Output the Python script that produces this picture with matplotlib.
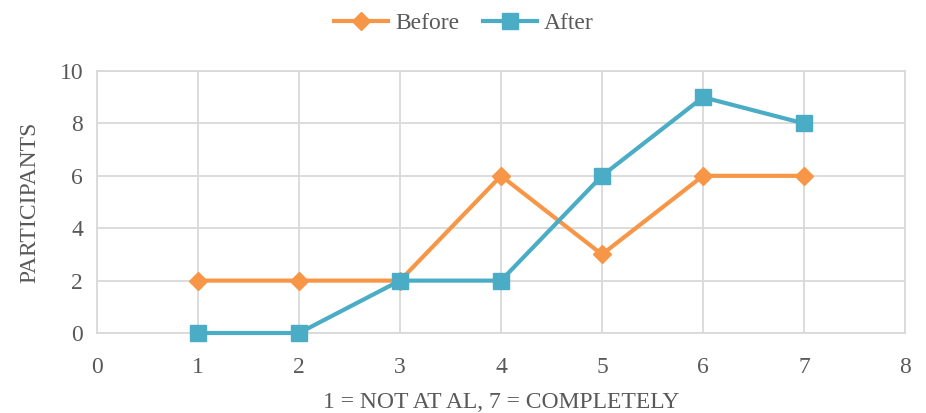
import matplotlib
matplotlib.use('Agg')
import matplotlib.pyplot as plt

# Chart data
x_scores = [1, 2, 3, 4, 5, 6, 7]
before = [2, 2, 2, 6, 3, 6, 6]
after = [0, 0, 2, 2, 6, 9, 8]

ORANGE = '#F79646'
TEAL = '#4BACC6'
GRID = '#D9D9D9'
TEXT = '#595959'

plt.rcParams['font.family'] = ['Liberation Serif', 'DejaVu Serif']

fig = plt.figure(figsize=(9.26, 4.13), dpi=100)
ax = fig.add_axes([0.1048, 0.1937, 0.8725, 0.6343])

ax.plot(x_scores, before, '-', color=ORANGE, linewidth=3.0, marker='D',
        markersize=9, label='Before', zorder=3, clip_on=False)
ax.plot(x_scores, after, '-', color=TEAL, linewidth=3.0, marker='s',
        markersize=12, label='After', zorder=4, clip_on=False)

ax.set_xlim(0, 8)
ax.set_ylim(0, 10)
ax.set_xticks(range(0, 9))
ax.set_yticks(range(0, 11, 2))
ax.grid(color=GRID, linewidth=1.3)
ax.set_axisbelow(True)
for s in ax.spines.values():
    s.set_color(GRID)
    s.set_linewidth(1.3)
ax.tick_params(length=0, labelsize=17, colors=TEXT)
ax.tick_params(axis='x', pad=17)
ax.tick_params(axis='y', pad=10)
ax.set_xlabel('1 = NOT AT AL, 7 = COMPLETELY', fontsize=17, color=TEXT, labelpad=10)
ax.set_ylabel('PARTICIPANTS', fontsize=17, color=TEXT, labelpad=14)

ax.legend(loc='lower center', bbox_to_anchor=(0.454, 1.06), ncol=2, frameon=False,
          fontsize=17, labelcolor=TEXT, handlelength=2.3, columnspacing=1.0,
          handletextpad=0.3)

fig.savefig('out.png', dpi=100)
